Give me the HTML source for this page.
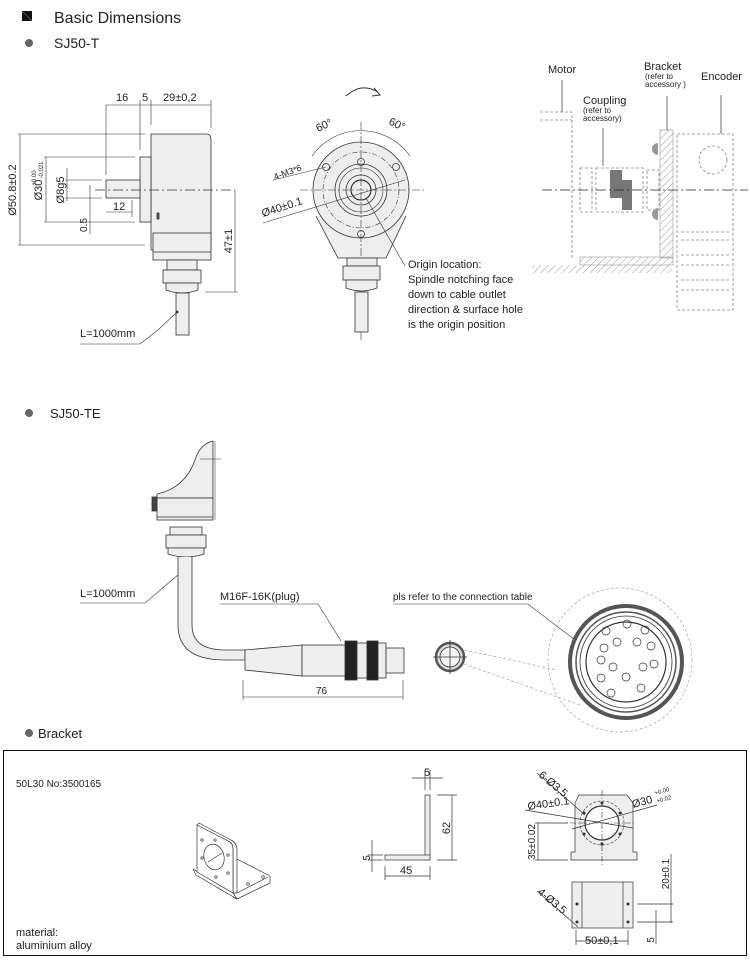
<!DOCTYPE html>
<html><head><meta charset="utf-8"><style>
html,body{margin:0;padding:0;background:#fff}
svg{display:block}
text{font-family:"Liberation Sans",Arial,sans-serif;fill:#222}
</style></head><body>
<svg width="750" height="972" viewBox="0 0 750 972" xmlns="http://www.w3.org/2000/svg">
<defs>
<pattern id="h" width="5" height="5" patternUnits="userSpaceOnUse" patternTransform="rotate(45)"><line x1="0" y1="0" x2="0" y2="5" stroke="#999" stroke-width="1"/></pattern>
</defs>
<!-- header -->
<rect x="22" y="11" width="10" height="10" fill="#111"/>
<line x1="22" y1="11" x2="32" y2="21" stroke="#666" stroke-width="0.6"/>
<text x="54" y="23" font-size="16">Basic Dimensions</text>
<circle cx="29" cy="43" r="4" fill="#666"/>
<text x="54" y="48" font-size="14">SJ50-T</text>

<!-- side view SJ50-T -->
<g stroke="#333" stroke-width="0.8" fill="none">
<line x1="106" y1="105" x2="211" y2="105" stroke-width="0.6"/>
<line x1="106" y1="105" x2="106" y2="175" stroke-width="0.6"/>
<line x1="140" y1="100" x2="140" y2="150" stroke-width="0.6"/>
<line x1="151" y1="100" x2="151" y2="125" stroke-width="0.6"/>
<line x1="211" y1="100" x2="211" y2="128" stroke-width="0.6"/>
<path d="M151 134 H206 Q211 134 211 140 V250 H151 Z" fill="#eee"/>
<rect x="153" y="233" width="58" height="27" fill="#eee"/>
<line x1="153" y1="252" x2="211" y2="252"/>
<rect x="140" y="157" width="11" height="65" fill="#eee"/>
<rect x="106" y="180" width="34" height="18" fill="#eee"/>
<rect x="157" y="213" width="2" height="6" fill="#555"/>
<rect x="167" y="260" width="30" height="10" fill="#eee"/>
<rect x="163" y="270" width="38" height="13" fill="#eee"/>
<path d="M166 283 H198 V290 Q182 296 166 290 Z" fill="#eee"/>
<rect x="176" y="293" width="13" height="42" fill="#eee"/>
<line x1="95" y1="190" x2="235" y2="190" stroke-dasharray="10 3 2 3"/>
<line x1="20" y1="134" x2="20" y2="245" stroke-width="0.6"/>
<line x1="18" y1="134" x2="145" y2="134" stroke-width="0.5"/>
<line x1="18" y1="245" x2="145" y2="245" stroke-width="0.5"/>
<line x1="46" y1="157" x2="46" y2="222" stroke-width="0.6"/>
<line x1="44" y1="157" x2="135" y2="157" stroke-width="0.5"/>
<line x1="44" y1="222" x2="135" y2="222" stroke-width="0.5"/>
<line x1="67" y1="168" x2="67" y2="201" stroke-width="0.6"/>
<line x1="65" y1="180" x2="102" y2="180" stroke-width="0.5"/>
<line x1="65" y1="198" x2="102" y2="198" stroke-width="0.5"/>
<line x1="90" y1="185" x2="90" y2="234" stroke-width="0.6"/>
<line x1="106" y1="212" x2="132" y2="212" stroke-width="0.6"/>
<line x1="132" y1="200" x2="132" y2="217" stroke-width="0.6"/>
<line x1="235" y1="190" x2="235" y2="292" stroke-width="0.6"/>
<line x1="205" y1="292" x2="238" y2="292" stroke-width="0.5"/>
<polyline points="140,344 158,330 177,312" stroke-width="0.6"/>
<line x1="80" y1="344" x2="140" y2="344" stroke-width="0.6"/>
</g>
<circle cx="177" cy="312" r="1.5" fill="#333"/>
<text x="116" y="101" font-size="11">16</text>
<text x="142" y="101" font-size="11">5</text>
<text x="163" y="101" font-size="11">29±0,2</text>
<text x="16" y="190" font-size="11" transform="rotate(-90 16 190)" text-anchor="middle">Ø50.8±0.2</text>
<text x="42" y="190" font-size="11" transform="rotate(-90 42 190)" text-anchor="middle">Ø30</text>
<text x="36" y="178" font-size="6" transform="rotate(-90 36 178)" text-anchor="middle">+0.00</text>
<text x="43" y="170" font-size="6" transform="rotate(-90 43 170)" text-anchor="middle">-0.021</text>
<text x="64" y="190" font-size="11" transform="rotate(-90 64 190)" text-anchor="middle">Ø8g5</text>
<text x="87" y="225" font-size="10" transform="rotate(-90 87 225)" text-anchor="middle">0.5</text>
<text x="113" y="210" font-size="11">12</text>
<text x="232" y="241" font-size="11" transform="rotate(-90 232 241)" text-anchor="middle">47±1</text>
<text x="80" y="337" font-size="11">L=1000mm</text>

<!-- front view -->
<g stroke="#333" stroke-width="0.8" fill="none">
<path d="M346 96 Q361 82 378 92" stroke-width="1"/>
<path d="M374 88 L380 95 L372 96" stroke-width="1"/>
<path d="M316 216 L338 258 H386 L406 216" fill="#eee"/>
<circle cx="361" cy="190" r="48" fill="#eee"/>
<circle cx="361" cy="190" r="38" stroke-dasharray="5 2 1 2" stroke-width="0.6"/>
<circle cx="361" cy="190" r="26"/>
<circle cx="361" cy="190" r="22" stroke-width="0.6"/>
<circle cx="361" cy="190" r="15"/>
<circle cx="361" cy="190" r="10" stroke-width="1.2"/>
<circle cx="361" cy="162" r="3.5"/><circle cx="326" cy="167" r="3.5"/><circle cx="396" cy="167" r="3.5"/><circle cx="361" cy="234" r="3.5"/>
<path d="M312 156 A60 60 0 0 1 410 156" stroke-width="0.6"/>
<line x1="300" y1="190" x2="424" y2="190" stroke-dasharray="8 2 2 2" stroke-width="0.6"/>
<line x1="361" y1="122" x2="361" y2="340" stroke-dasharray="8 2 2 2" stroke-width="0.6"/>
<line x1="273" y1="180" x2="326" y2="167" stroke-width="0.6"/>
<line x1="263" y1="223" x2="405" y2="180" stroke-width="0.6"/>
<line x1="366" y1="198" x2="405" y2="266" stroke-width="0.6"/>
<rect x="347" y="258" width="30" height="8" fill="#eee"/>
<rect x="343" y="266" width="37" height="14" fill="#eee"/>
<path d="M346 280 H377 V288 Q361 294 346 288 Z" fill="#eee"/>
<rect x="355" y="292" width="13" height="40" fill="#eee"/>
</g>
<text x="318" y="132" font-size="11" transform="rotate(-25 318 132)">60°</text>
<text x="388" y="124" font-size="11" transform="rotate(25 388 124)">60°</text>
<text x="275" y="180" font-size="9" transform="rotate(-20 275 180)">4-M3*6</text>
<text x="263" y="217" font-size="11" transform="rotate(-18 263 217)">Ø40±0.1</text>
<g font-size="11"><text x="408" y="268">Origin location:</text><text x="408" y="283">Spindle notching face</text><text x="408" y="298">down to cable outlet</text><text x="408" y="313">direction &amp; surface hole</text><text x="408" y="328">is the origin position</text></g>

<!-- assembly -->
<g stroke="#888" stroke-width="0.8" fill="none" stroke-dasharray="3 2">
<path d="M540 112 H572 V260 M540 120 H572"/>
<rect x="580" y="168" width="12" height="44"/>
<rect x="596" y="168" width="47" height="44"/>
<rect x="647" y="170" width="12" height="40"/>
<path d="M677 134 H733 V310 H677 Z"/>
<circle cx="713" cy="160" r="14"/>
<path d="M681 232 H731 M681 240 H731 M681 255 H731 M681 265 H731 M681 280 H731 M681 290 H731"/>
</g>
<path d="M610 170 H622 V180 H632 V198 H622 H610 Z M622 198 V210 H632 V198" fill="#777"/>
<rect x="660" y="130" width="13" height="128" fill="url(#h)" stroke="#999" stroke-width="0.6"/>
<rect x="580" y="257" width="93" height="8" fill="url(#h)" stroke="#999" stroke-width="0.6"/>
<rect x="532" y="265" width="140" height="8" fill="url(#h)"/>
<path d="M658 143 a6 6 0 0 0 0 12Z M658 208 a6 6 0 0 0 0 12Z" fill="#999"/>
<line x1="542" y1="190" x2="748" y2="190" stroke="#222" stroke-width="0.8" stroke-dasharray="10 3 2 3"/>
<g stroke="#333" stroke-width="0.7"><line x1="562" y1="80" x2="562" y2="112"/><line x1="603" y1="128" x2="603" y2="166"/><line x1="667" y1="96" x2="667" y2="130"/><line x1="721" y1="95" x2="721" y2="134"/></g>
<text x="548" y="73" font-size="11">Motor</text>
<text x="583" y="104" font-size="11">Coupling</text>
<text x="583" y="113" font-size="8">(refer to</text>
<text x="583" y="121" font-size="8">accessory)</text>
<text x="644" y="70" font-size="11">Bracket</text>
<text x="645" y="79" font-size="8">(refer to</text>
<text x="645" y="87" font-size="8">accessory )</text>
<text x="701" y="80" font-size="11">Encoder</text>

<!-- SJ50-TE -->
<circle cx="29" cy="413" r="4" fill="#666"/>
<text x="50" y="418" font-size="13">SJ50-TE</text>
<g stroke="#333" stroke-width="0.8" fill="none">
<path d="M157 494 Q185 488 195 460 Q200 444 213 441 V498 H157 Z" fill="#eee"/>
<rect x="157" y="498" width="56" height="22" fill="#eee"/>
<line x1="157" y1="517" x2="213" y2="517"/>
<rect x="152" y="497" width="5" height="14" fill="#444"/>
<line x1="215" y1="441" x2="215" y2="520" stroke-width="0.5"/>
<line x1="200" y1="459" x2="221" y2="459" stroke-width="0.5"/>
<rect x="170" y="527" width="32" height="8" fill="#eee"/>
<rect x="166" y="535" width="40" height="13" fill="#eee"/>
<path d="M168 548 H204 V554 Q186 560 168 554 Z" fill="#eee"/>
<path d="M178 557 V625 Q178 660 225 660 H245 V650 H225 Q192 650 192 625 V557" fill="#eee"/>
<path d="M245 650 L302 645 V676 L245 670 Z" fill="#eee"/>
<rect x="302" y="645" width="45" height="31" fill="#eee"/>
<rect x="345" y="641" width="12" height="39" fill="#222"/>
<rect x="357" y="643" width="10" height="35" fill="#eee"/>
<rect x="367" y="641" width="11" height="39" fill="#222"/>
<rect x="378" y="643" width="8" height="35" fill="#eee"/>
<rect x="386" y="648" width="18" height="25" fill="#eee"/>
<line x1="243" y1="680" x2="243" y2="700" stroke-width="0.6"/>
<line x1="403" y1="680" x2="403" y2="700" stroke-width="0.6"/>
<line x1="243" y1="697" x2="403" y2="697" stroke-width="0.6"/>
<polyline points="80,603 145,603 178,575" stroke-width="0.6"/>
<polyline points="220,604 318,604 341,641" stroke-width="0.6"/>
<polyline points="393,604 528,604 575,640" stroke-width="0.6"/>
<circle cx="450" cy="657" r="14" stroke-width="2.5" stroke="#555" fill="#ddd"/>
<circle cx="450" cy="657" r="10" fill="#f4f4f4"/>
<line x1="433" y1="657" x2="467" y2="657"/><line x1="450" y1="640" x2="450" y2="674"/>
<circle cx="620" cy="660" r="72" stroke="#999" stroke-dasharray="3 2" stroke-width="0.6"/>
<line x1="464" y1="650" x2="557" y2="670" stroke="#999" stroke-dasharray="3 2" stroke-width="0.6"/>
<line x1="464" y1="664" x2="580" y2="705" stroke="#999" stroke-dasharray="3 2" stroke-width="0.6"/>
<circle cx="626" cy="662" r="56" stroke-width="4" stroke="#555"/>
<circle cx="626" cy="662" r="50" stroke-width="1.5" stroke="#555"/>
<circle cx="626" cy="662" r="46"/>
<circle cx="626" cy="662" r="40" stroke-width="1.2"/>
</g>
<g stroke="#333" stroke-width="0.7" fill="none">
<circle cx="627" cy="624" r="4"/><circle cx="606" cy="631" r="4"/><circle cx="645" cy="630" r="4"/>
<circle cx="604" cy="648" r="4"/><circle cx="617" cy="642" r="4"/><circle cx="637" cy="642" r="4"/><circle cx="651" cy="646" r="4"/>
<circle cx="601" cy="660" r="4"/><circle cx="613" cy="667" r="4"/><circle cx="643" cy="667" r="4"/><circle cx="654" cy="664" r="4"/>
<circle cx="601" cy="678" r="4"/><circle cx="626" cy="677" r="4"/><circle cx="611" cy="693" r="4"/><circle cx="641" cy="688" r="4"/>
</g>
<text x="80" y="597" font-size="11">L=1000mm</text>
<text x="220" y="600" font-size="11">M16F-16K(plug)</text>
<text x="393" y="600" font-size="10">pls refer to the connection table</text>
<text x="316" y="694" font-size="10">76</text>

<!-- Bracket -->
<circle cx="29" cy="733" r="4" fill="#666"/>
<text x="38" y="738" font-size="13">Bracket</text>
<rect x="3.5" y="750.5" width="743" height="205" fill="none" stroke="#111" stroke-width="1"/>
<text x="16" y="787" font-size="10">50L30    No:3500165</text>
<text x="16" y="936" font-size="11">material:</text>
<text x="16" y="949" font-size="11">aluminium alloy</text>
<g stroke="#333" stroke-width="0.7" fill="#fff" stroke-linejoin="round">
<path d="M233 857 L270 876 L270 883 L237 899 L233 897 Z"/>
<path d="M237 893 L268 877"/>
<path d="M193 869 L233 893 L237 899 L196 875 Z"/>
<path d="M197 825 L199 823 L231 840 Q237 843 237 850 V893 L233 893 V849 Q233 843 228 841 Z"/>
<path d="M197 825 L228 841 Q233 843 233 849 V893 L197 872 Z"/>
<ellipse cx="214" cy="857" rx="10" ry="13" transform="rotate(-15 214 857)"/>
<line x1="208" y1="862" x2="222" y2="853"/>
<circle cx="202" cy="840" r="1.2" fill="none"/><circle cx="215" cy="840" r="1.2" fill="none"/><circle cx="228" cy="855" r="1.2" fill="none"/><circle cx="228" cy="873" r="1.2" fill="none"/><circle cx="216" cy="877" r="1.2" fill="none"/><circle cx="202" cy="858" r="1.2" fill="none"/>
<circle cx="248" cy="884" r="1.3" fill="none"/><circle cx="263" cy="877" r="1.3" fill="none"/>
</g>
<g stroke="#333" stroke-width="0.7" fill="none">
<rect x="425" y="795" width="5" height="65" fill="#eee"/>
<rect x="385" y="855" width="45" height="5" fill="#eee"/>
<line x1="425" y1="770" x2="425" y2="790"/><line x1="430" y1="770" x2="430" y2="790"/><line x1="412" y1="778" x2="443" y2="778"/>
<line x1="437" y1="795" x2="457" y2="795"/><line x1="437" y1="860" x2="457" y2="860"/><line x1="452" y1="795" x2="452" y2="860"/>
<line x1="372" y1="840" x2="372" y2="872"/><line x1="368" y1="855" x2="383" y2="855"/><line x1="368" y1="860" x2="383" y2="860"/>
<line x1="385" y1="866" x2="385" y2="880"/><line x1="430" y1="866" x2="430" y2="880"/><line x1="385" y1="876" x2="430" y2="876"/>
<path d="M579 795 H627 L633 803 V852 H637 V860 H571 V852 H575 V803 Z" fill="#eee"/>
<circle cx="602" cy="823" r="22" stroke-dasharray="3 1.5" stroke-width="0.6"/>
<circle cx="602" cy="823" r="17" stroke-width="1.2" fill="#fff"/>
<line x1="602" y1="790" x2="602" y2="866" stroke-dasharray="6 2 1 2" stroke-width="0.6"/>
<line x1="570" y1="823" x2="636" y2="823" stroke-dasharray="6 2 1 2" stroke-width="0.6"/>
<line x1="537" y1="773" x2="585" y2="815"/>
<line x1="525" y1="810" x2="633" y2="828"/>
<line x1="572" y1="829" x2="657" y2="805"/>
<line x1="535" y1="823" x2="568" y2="823"/><line x1="535" y1="860" x2="568" y2="860"/><line x1="538" y1="823" x2="538" y2="860"/>
<rect x="572" y="882" width="61" height="46" fill="#eee"/>
<line x1="582" y1="882" x2="582" y2="928"/><line x1="623" y1="882" x2="623" y2="928"/>
<line x1="537" y1="891" x2="578" y2="927"/>
<line x1="576" y1="930" x2="576" y2="945"/><line x1="628" y1="930" x2="628" y2="945"/><line x1="576" y1="941" x2="628" y2="941"/>
<line x1="637" y1="904" x2="673" y2="904"/><line x1="637" y1="922" x2="673" y2="922"/><line x1="671" y1="854" x2="671" y2="923"/>
<line x1="656" y1="910" x2="656" y2="944"/>
</g>
<g fill="#333"><circle cx="577" cy="904" r="1.5"/><circle cx="628" cy="904" r="1.5"/><circle cx="577" cy="922" r="1.5"/><circle cx="628" cy="922" r="1.5"/>
<circle cx="602" cy="803" r="1.5"/><circle cx="602" cy="844" r="1.5"/><circle cx="584" cy="813" r="1.5"/><circle cx="620" cy="813" r="1.5"/><circle cx="584" cy="834" r="1.5"/><circle cx="620" cy="834" r="1.5"/></g>
<text x="424" y="776" font-size="11">5</text>
<text x="450" y="828" font-size="11" transform="rotate(-90 450 828)" text-anchor="middle">62</text>
<text x="370" y="858" font-size="10" transform="rotate(-90 370 858)" text-anchor="middle">5</text>
<text x="400" y="874" font-size="11">45</text>
<text x="538" y="776" font-size="11" transform="rotate(40 538 776)">6-Ø3,5</text>
<text x="528" y="810" font-size="11" transform="rotate(-8 528 810)">Ø40±0.1</text>
<text x="633" y="808" font-size="11" transform="rotate(-15 633 808)">Ø30</text>
<text x="655" y="795" font-size="6" transform="rotate(-15 655 795)">+0.00</text>
<text x="657" y="803" font-size="6" transform="rotate(-15 657 803)">+0.02</text>
<text x="535" y="842" font-size="10" transform="rotate(-90 535 842)" text-anchor="middle">35±0.02</text>
<text x="669" y="874" font-size="10" transform="rotate(-90 669 874)" text-anchor="middle">20±0.1</text>
<text x="537" y="893" font-size="11" transform="rotate(40 537 893)">4-Ø3,5</text>
<text x="585" y="944" font-size="11">50±0,1</text>
<text x="654" y="940" font-size="10" transform="rotate(-90 654 940)" text-anchor="middle">5</text>
</svg>
</body></html>
